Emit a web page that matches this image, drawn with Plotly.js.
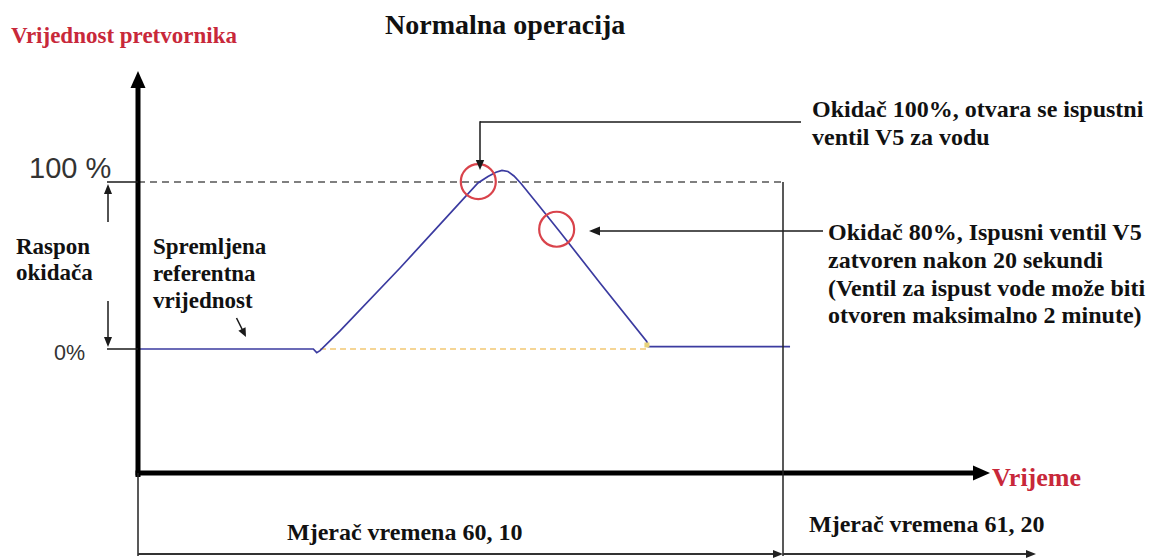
<!DOCTYPE html>
<html><head><meta charset="utf-8">
<script src="https://cdn.plot.ly/plotly-3.0.1.min.js"></script>
<style>html,body{margin:0;padding:0;background:#fff;} #chart{width:1159px;height:559px;}</style>
</head><body><div id="chart"></div>
<script>
// ---------- data (time units: 100 = end of timer 60,10; value in %) ----------
const signalTime  = [0, 27.18, 27.71, 28.22, 31.32, 34.42, 40.62, 46.82, 50.70, 52.71, 54.26, 55.50, 56.43, 57.36, 58.29, 59.38, 62.33, 65.43, 71.63, 77.83, 78.87, 79.12, 101.09];
const signalValue = [0, 0, -2.2, -1.0, 10.8, 23.4, 48.5, 74.6, 91.3, 99.4, 103.3, 105.8, 106.9, 106.3, 103.6, 99.1, 85.0, 70.1, 39.5, 9.0, 4.5, 1.4, 1.4];
const triggerTime  = [52.76, 64.91];
const triggerValue = [100.2, 71.7];
const levelValues  = [100, 0];
const levelLabels  = ['100 %', '0%'];
const timerEnd     = 100;
const refLineTime  = [28.22, 78.87];
const endMarkTime  = [78.9];
const endMarkValue = [2.4];

const titleText  = 'Normalna operacija';
const yTitleText = 'Vrijednost pretvornika';
const xTitleText = 'Vrijeme';
const timerLabels = ['Mjerač vremena 60, 10', 'Mjerač vremena 61, 20'];
const note100 = ['Okidač 100%, otvara se ispustni', 'ventil V5 za vodu'];
const note80  = ['Okidač 80%, Ispusni ventil V5', 'zatvoren nakon 20 sekundi', '(Ventil za ispust vode može biti', 'otvoren maksimalno 2 minute)'];
const rangeLabel = ['Raspon', 'okidača'];
const refLabel   = ['Spremljena', 'referentna', 'vrijednost'];

// ---------- geometry ----------
const W = 1159, H = 559;
const ORIGIN_PX = 138, PX_PER_T = 6.45;   // x scale
const ZERO_PY = 349, PX_PER_PCT = 1.67;   // y scale
const xRange = [-ORIGIN_PX / PX_PER_T, (W - ORIGIN_PX) / PX_PER_T];
const yRange = [(ZERO_PY - H) / PX_PER_PCT, ZERO_PY / PX_PER_PCT];
const dY = py => (ZERO_PY - py) / PX_PER_PCT;
const X = px => px / W, Y = py => 1 - py / H;

const SERIF = '"Liberation Serif", "Times New Roman", serif';
const SANS = '"Liberation Sans", Arial, sans-serif';
const RED = '#c8283a';
const INK = '#1a1a1a';

function seg(x0, y0, x1, y1, w, c) {
  return {type: 'line', xref: 'paper', yref: 'paper', x0: X(x0), y0: Y(y0), x1: X(x1), y1: Y(y1),
          line: {color: c || INK, width: w}, layer: 'above'};
}
function head(tx, ty, fx, fy, len, hw, c) {
  let dx = tx - fx, dy = ty - fy; const L = Math.hypot(dx, dy); dx /= L; dy /= L;
  const bx = tx - dx * len, by = ty - dy * len, nx = -dy, ny = dx;
  const p = [[tx, ty], [bx + nx * hw, by + ny * hw], [bx - nx * hw, by - ny * hw]];
  const d = 'M ' + p.map(q => X(q[0]) + ',' + Y(q[1])).join(' L ') + ' Z';
  return {type: 'path', xref: 'paper', yref: 'paper', path: d, fillcolor: c || INK, line: {width: 0}, layer: 'above'};
}
function txt(text, xpx, base, fs, opt) {
  opt = opt || {};
  const fam = opt.family || SERIF;
  const k = fam === SANS ? 0.3465 : 0.3375;
  return {xref: 'paper', yref: 'paper', x: X(xpx), y: Y(base - k * fs), xanchor: opt.anchor || 'left', yanchor: 'middle',
          text: opt.plain ? text : '<b>' + text + '</b>', showarrow: false, borderpad: 0, borderwidth: 0,
          font: {family: fam, size: fs, color: opt.color || '#111'}};
}

const traces = [
  {x: [0, timerEnd], y: [levelValues[0], levelValues[0]], mode: 'lines',
   line: {color: '#7f7f7f', width: 2.2, dash: '7px,5px'}, hoverinfo: 'skip'},
  {x: refLineTime, y: [levelValues[1], levelValues[1]], mode: 'lines',
   line: {color: '#f2c873', width: 1.5, dash: '6px,4px'}, hoverinfo: 'skip'},
  {x: signalTime, y: signalValue, mode: 'lines', line: {color: '#3b3ba0', width: 1.7}, hoverinfo: 'skip'},
  {x: endMarkTime, y: endMarkValue, mode: 'markers', marker: {symbol: 'square', size: 5, color: '#e7d27a'}, hoverinfo: 'skip'},
  {x: triggerTime, y: triggerValue, mode: 'markers',
   marker: {symbol: 'circle-open', size: 35, color: '#d9434b', line: {width: 2.2, color: '#d9434b'}}, hoverinfo: 'skip'}
];

const shapes = [
  // y axis
  seg(138, 477, 138, 86, 5, '#000'), head(138, 71, 138, 90, 17, 7.5, '#000'),
  // x axis
  seg(135.5, 473, 976, 473, 5, '#000'), head(990, 473, 970, 473, 17, 7.5, '#000'),
  // level ticks
  seg(107, 182, 138, 182, 1.5), seg(107, ZERO_PY, 138, ZERO_PY, 1.5),
  // range arrows
  seg(108, 222, 108, 192, 1.5), head(108, 184, 108, 200, 10, 4),
  seg(108, 301, 108, 338, 1.5), head(108, 347, 108, 330, 10, 4),
  // stored reference small arrow
  seg(236.5, 318, 242.5, 330, 1.5), head(246, 337, 236.5, 318, 9, 4),
  // trigger 100 callout
  seg(480, 122, 801, 122, 1.5), seg(480, 121.3, 480, 161, 1.5), head(480, 170, 480, 150, 10, 4.2),
  // trigger 80 callout
  seg(823, 231, 598, 231, 1.5), head(589, 231, 610, 231, 11, 4.5),
  // timer boundary (data-anchored)
  {type: 'line', xref: 'x', yref: 'y', x0: timerEnd, x1: timerEnd, y0: levelValues[0], y1: dY(556),
   line: {color: '#222', width: 1.5}, layer: 'above'},
  // timer arrows
  seg(138, 473, 138, 556, 1.5, '#222'),
  seg(138, 554, 774, 554, 2, '#333'), head(783, 554, 770, 554, 10, 4, '#222'),
  seg(783, 554, 1026, 554, 2, '#333'), head(1036, 554, 1020, 554, 10, 4, '#222')
];

const annotations = [
  txt(titleText, 505, 34.3, 28, {anchor: 'center'}),
  txt(yTitleText, 11, 43.3, 23, {color: RED}),
  txt(levelLabels[0], 29, 178, 29, {family: SANS, plain: true, color: '#333'}),
  txt(levelLabels[1], 54, 360, 21.5, {family: SANS, plain: true, color: '#333'}),
  txt(rangeLabel[0], 16, 254, 23), txt(rangeLabel[1], 16, 280, 23),
  txt(refLabel[0], 153, 254, 23), txt(refLabel[1], 153, 281, 23), txt(refLabel[2], 153, 308, 23),
  txt(note100[0], 812, 117, 24), txt(note100[1], 812, 145, 24),
  txt(note80[0], 828, 240, 24), txt(note80[1], 828, 268, 24), txt(note80[2], 828, 296.5, 24), txt(note80[3], 828, 323.5, 24),
  txt(timerLabels[0], 287, 540, 24), txt(timerLabels[1], 809, 532, 24),
  txt(xTitleText, 992, 486.7, 26, {color: RED})
];

const layout = {
  width: W, height: H, margin: {l: 0, r: 0, t: 0, b: 0},
  paper_bgcolor: '#fff', plot_bgcolor: '#fff', showlegend: false,
  xaxis: {range: xRange, visible: false, fixedrange: true},
  yaxis: {range: yRange, visible: false, fixedrange: true},
  shapes: shapes, annotations: annotations
};
Plotly.newPlot('chart', traces, layout, {displayModeBar: false, staticPlot: true});
</script>
</body></html>
